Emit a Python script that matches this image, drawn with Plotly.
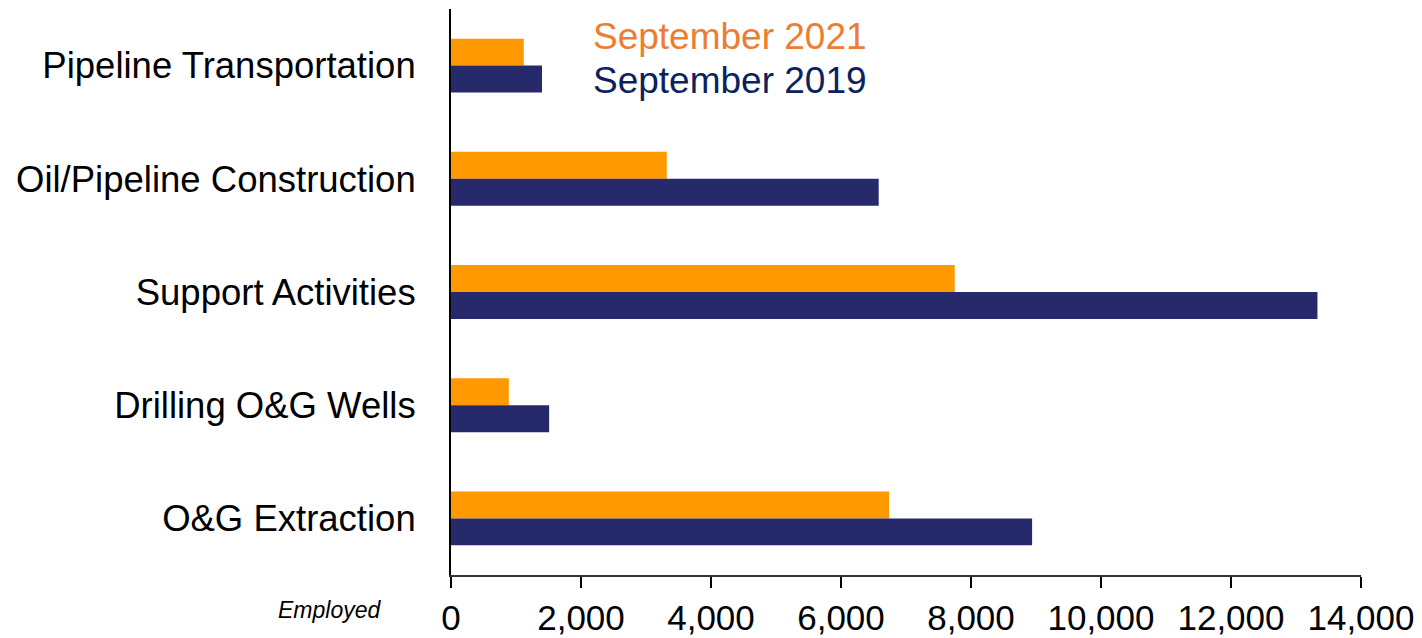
import plotly.graph_objects as go

# ── Data ──────────────────────────────────────────────────────────────────────
categories = [
    "Pipeline Transportation",
    "Oil/Pipeline Construction",
    "Support Activities",
    "Drilling O&G Wells",
    "O&G Extraction",
]
sep_2021 = [1120, 3320, 7750, 890, 6740]
sep_2019 = [1400, 6580, 13330, 1510, 8940]
x_ticks = [0, 2000, 4000, 6000, 8000, 10000, 12000, 14000]

# ── Colours ───────────────────────────────────────────────────────────────────
BAR_ORANGE = "#FF9900"
BAR_NAVY   = "#262A6B"
TXT_ORANGE = "#ED7D31"
TXT_NAVY   = "#0B2260"
FONT       = "Liberation Sans, Arial, sans-serif"

fig = go.Figure()
fig.add_trace(go.Bar(
    y=categories, x=sep_2021, orientation='h', name="September 2021",
    marker_color=BAR_ORANGE, marker_line_width=0,
))
fig.add_trace(go.Bar(
    y=categories, x=sep_2019, orientation='h', name="September 2019",
    marker_color=BAR_NAVY, marker_line_width=0,
))

# legend as coloured text
fig.add_annotation(text="September 2021", xref='paper', yref='paper',
                   x=0.154, y=0.951, xanchor='left', yanchor='middle',
                   showarrow=False, font=dict(size=37, color=TXT_ORANGE, family=FONT))
fig.add_annotation(text="September 2019", xref='paper', yref='paper',
                   x=0.154, y=0.873, xanchor='left', yanchor='middle',
                   showarrow=False, font=dict(size=37, color=TXT_NAVY, family=FONT))
fig.add_annotation(text="<i>Employed</i>", xref='paper', yref='paper',
                   x=-0.075, y=-0.062, xanchor='right', yanchor='middle',
                   showarrow=False, font=dict(size=23, color="#000000", family=FONT))

# page body adds an 8px margin, so the figure is sized 8px smaller
fig.update_layout(
    barmode='group',
    bargap=0.524,
    bargroupgap=0,
    showlegend=False,
    width=1414, height=630,
    paper_bgcolor="white",
    plot_bgcolor="white",
    font=dict(family=FONT, color="#000000"),
    margin=dict(l=443, r=61, t=1, b=63, autoexpand=False),
)
fig.update_xaxes(
    range=[0, 14000], tickvals=x_ticks, tickformat=",d",
    showgrid=False, zeroline=False, automargin=False,
    showline=True, linecolor="#333333", linewidth=2,
    ticks='outside', ticklen=11, tickcolor="#000000", tickwidth=1.5,
    tickfont=dict(size=35, color="#000000", family=FONT),
)
fig.update_yaxes(
    autorange='reversed', showgrid=False, zeroline=False, automargin=False,
    showline=True, linecolor="#000000", linewidth=2,
    ticks='', ticklabelstandoff=26,
    tickfont=dict(size=36.5, color="#000000", family=FONT),
)

fig.write_html("out.html")
